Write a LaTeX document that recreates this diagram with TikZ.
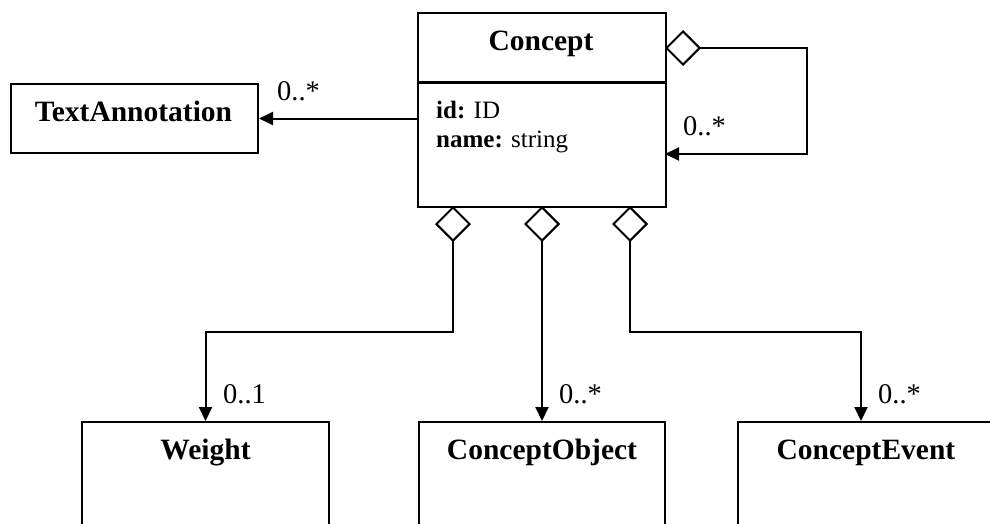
\documentclass[tikz,border=0pt]{standalone}
\usepackage{fontspec}
\setmainfont{Liberation Serif}
\usetikzlibrary{arrows.meta}

\begin{document}
\begin{tikzpicture}[x=1pt,y=-1pt,
		classbox/.style={draw, line width=2pt, inner sep=0pt, minimum width=247pt, anchor=north west},
		classname/.style={inner sep=0pt, anchor=base, font=\fontsize{29.5}{34}\bfseries},
		attr/.style={inner sep=0pt, anchor=base west, font=\fontsize{25}{29}\selectfont},
		mult/.style={inner sep=0pt, anchor=base west, font=\fontsize{28.5}{32}\selectfont},
		assoc/.style={line width=2pt, -{Triangle[length=14pt,width=13pt]}},
		aggr/.style={line width=2pt, {Diamond[open,length=36pt,width=36pt]}-{Triangle[length=14pt,width=13pt]}}]
	\useasboundingbox (0,0) rectangle (990,523);
	% classes
	\node[classbox, minimum width=248pt, minimum height=194pt] (concept) at (417,12) {};
	\node[classbox, minimum height=69pt] (textann) at (10,83) {};
	\node[classbox, minimum height=150pt] (weight) at (81,421) {};
	\node[classbox, minimum width=246pt, minimum height=150pt] (cobject) at (418,421) {};
	\node[classbox, minimum width=270pt, minimum height=150pt] (cevent) at (737,421) {};
	\draw[line width=3pt] (concept.west |- 0,82) -- (concept.east |- 0,82);
	% names and attributes
	\node[classname] (conceptname) at (541,50) {Concept};
	\node[attr] (conceptid) at (436,118) {\textbf{id:} ID};
	\node[attr] (conceptattr) at (436,147) {\textbf{name:} string};
	\node[classname] (textannname) at (133.5,121) {TextAnnotation};
	\node[classname] (weightname) at (weight.north |- 0,459) {Weight};
	\node[classname] (cobjectname) at (cobject.north |- 0,459) {ConceptObject};
	\node[classname] (ceventname) at (866,459) {ConceptEvent};
	% connectors
	\coordinate (selfout) at (665,48);
	\coordinate (selfin) at (665,154);
	\coordinate (cobjectout) at (542,206);
	\coordinate (ceventin) at (861,332);
	\draw[assoc] (concept.west |- textann.east) -- (textann.east);
	\draw[aggr] (selfout) -- (807,48) |- (selfin);
	\draw[aggr] (453,206) -- (453,332) -| (weight.north);
	\draw[aggr] (cobjectout) -- (cobjectout |- cobject.north);
	\draw[aggr] (630,206) -- (630,332) -- (ceventin) -- (ceventin |- cevent.north);
	% multiplicities
	\node[mult] (textannmult) at (277,100) {0..*};
	\node[mult] (selfmult) at (683,135) {0..*};
	\node[mult] (weightmult) at (223,403) {0..1};
	\node[mult] (cobjectmult) at (559,403) {0..*};
	\node[mult] (ceventmult) at (878,403) {0..*};
\end{tikzpicture}
\end{document}
